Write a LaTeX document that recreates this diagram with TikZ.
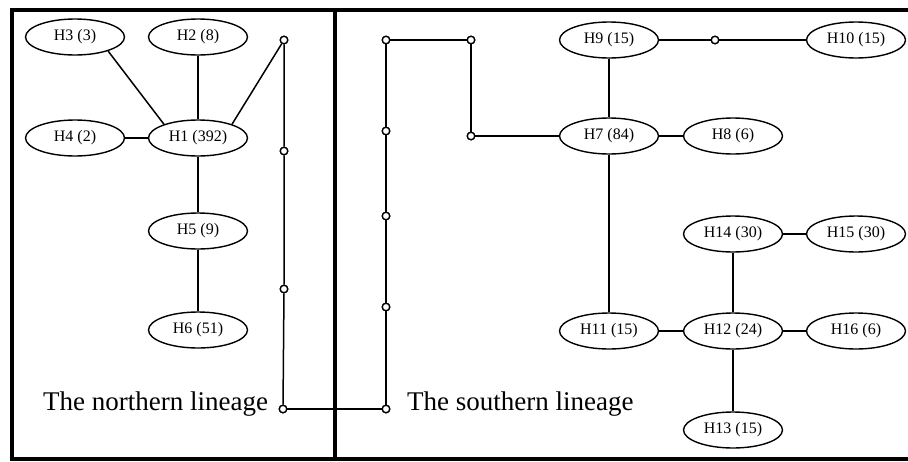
\documentclass[tikz,border=0pt]{standalone}
\usepackage{fontspec}
\setmainfont{Liberation Serif}
\usetikzlibrary{shapes.geometric}
\begin{document}
\begin{tikzpicture}[x=1pt,y=-1pt,
  hap/.style={draw,ellipse,line width=1.4pt,minimum width=99pt,minimum height=36pt,inner sep=0pt,font=\fontsize{16}{18}\selectfont},
  dot/.style={draw,circle,line width=1.3pt,fill=white,minimum size=7.5pt,inner sep=0pt},
  link/.style={line width=1.5pt},
  frame/.style={line width=3.8pt},
  lbl/.style={font=\fontsize{27}{30}\selectfont,inner sep=0pt}]
\useasboundingbox (0,0) rectangle (908,461);
\fill[white] (0,0) rectangle (908,461);
\draw[frame] (12,10) rectangle (911,459);
\draw[frame] (335,10) -- (335,459);
% left panel
\node[hap] (H3) at (75,37) {H3 (3)};
\node[hap] (H2) at (198,37) {H2 (8)};
\node[hap] (H4) at (75,138) {H4 (2)};
\node[hap] (H1) at (198,138) {H1 (392)};
\node[hap] (H5) at (198,231) {H5 (9)};
\node[hap] (H6) at (198,330) {H6 (51)};
\node[dot] (c1) at (284,40) {};
\node[dot] (c2) at (284,151) {};
\node[dot] (c3) at (284,289) {};
\node[dot] (c4) at (283,409) {};
% right panel
\node[dot] (s1) at (386,40) {};
\node[dot] (s2) at (386,131) {};
\node[dot] (s3) at (386,216) {};
\node[dot] (s4) at (386,307) {};
\node[dot] (s5) at (386,409) {};
\node[dot] (t1) at (471,40) {};
\node[dot] (t2) at (471,136) {};
\node[hap] (H9) at (609,40) {H9 (15)};
\node[dot] (m1) at (715,40) {};
\node[hap] (H10) at (856,40) {H10 (15)};
\node[hap] (H7) at (609,136) {H7 (84)};
\node[hap] (H8) at (733,136) {H8 (6)};
\node[hap] (H14) at (733,234) {H14 (30)};
\node[hap] (H15) at (856,234) {H15 (30)};
\node[hap] (H11) at (609,331) {H11 (15)};
\node[hap] (H12) at (733,331) {H12 (24)};
\node[hap] (H16) at (856,331) {H16 (6)};
\node[hap] (H13) at (733,430) {H13 (15)};
\node[lbl,anchor=base west] (nl) at (43,410) {The northern lineage};
\node[lbl,anchor=base west] (sl) at (407,410) {The southern lineage};
% connectors
\draw[link] (H3.-23) -- (H1.158);
\draw[link] (H2) -- (H1);
\draw[link] (H4) -- (H1);
\draw[link] (H1) -- (H5);
\draw[link] (H5) -- (H6);
\draw[link] (H1.22) -- (c1);
\draw[link] (c1) -- (c2) -- (c3) -- (c4);
\draw[link] (c4) -- (s5);
\draw[link] (s5) -- (s4) -- (s3) -- (s2) -- (s1);
\draw[link] (s1) -- (t1) -- (t2) -- (H7);
\draw[link] (H9) -- (H7);
\draw[link] (H9) -- (m1) -- (H10);
\draw[link] (H7) -- (H8);
\draw[link] (H7) -- (H11);
\draw[link] (H11) -- (H12);
\draw[link] (H12) -- (H14);
\draw[link] (H14) -- (H15);
\draw[link] (H12) -- (H16);
\draw[link] (H12) -- (H13);
% redraw dots on top
\foreach \d in {c1,c2,c3,c4,s1,s2,s3,s4,s5,t1,t2,m1}{\node[dot] at (\d) {};}
\end{tikzpicture}
\end{document}
